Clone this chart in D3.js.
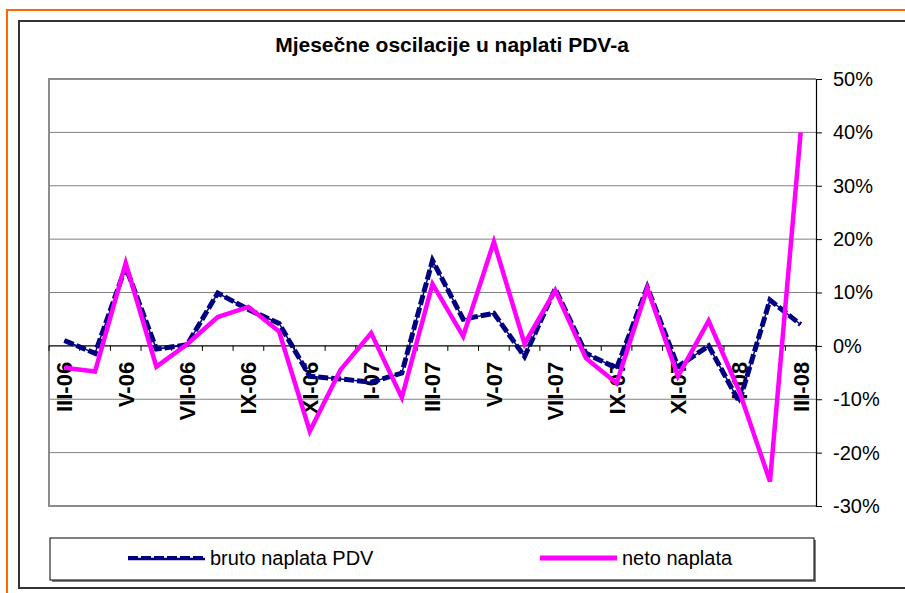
<!DOCTYPE html>
<html>
<head>
<meta charset="utf-8">
<script src="https://cdn.jsdelivr.net/npm/d3@7"></script>
<style>
  body { margin: 0; background: #fff; }
  text { font-family: "Liberation Sans", Arial, sans-serif; }
</style>
</head>
<body>
<div id="chart"></div>
<script>
var months = ["III-06","IV-06","V-06","VI-06","VII-06","VIII-06","IX-06","X-06","XI-06","XII-06",
              "I-07","II-07","III-07","IV-07","V-07","VI-07","VII-07","VIII-07","IX-07","X-07",
              "XI-07","XII-07","I-08","II-08","III-08"];
var tickLabels = ["III-06","V-06","VII-06","IX-06","XI-06","I-07","III-07","V-07","VII-07","IX-07","XI-07","I-08","III-08"];
var bruto = [1.0, -1.4, 14.8, -0.6, 0.2, 9.9, 6.8, 4.2, -5.7, -6.2, -6.8, -5.1, 16.0,
             5.0, 6.1, -2.0, 10.7, -1.4, -4.2, 11.0, -3.9, 0.0, -10.5, 8.6, 4.0];
var neto = [-4.1, -4.8, 15.5, -3.9, 0.3, 5.4, 7.3, 2.7, -16.0, -4.5, 2.4, -9.7, 11.6,
            1.8, 19.5, 0.4, 10.4, -2.3, -7.0, 10.8, -5.7, 4.7, -8.5, -25.4, 40.0];
var yTicks = [-30, -20, -10, 0, 10, 20, 30, 40, 50];

function init() {
  var w = 905, h = 593;
  var left = 49, right = 816, top = 79, bottom = 506;

  var svg = d3.select("#chart").append("svg")
      .attr("width", w)
      .attr("height", h);

  // outer frames
  svg.append("rect").attr("x", 7).attr("y", 10).attr("width", 920).attr("height", 600)
     .attr("fill", "none").attr("stroke", "#ff6600").attr("stroke-width", 2);
  svg.append("rect").attr("x", 19).attr("y", 21).attr("width", 900).attr("height", 567)
     .attr("fill", "#fff").attr("stroke", "#333").attr("stroke-width", 2);

  svg.append("text")
     .attr("x", 452).attr("y", 52)
     .attr("text-anchor", "middle")
     .attr("font-size", 21).attr("font-weight", "bold")
     .text("Mjesečne oscilacije u naplati PDV-a");

  var x = d3.scaleBand().domain(months).range([left, right]);
  var y = d3.scaleLinear().domain([-30, 50]).range([bottom, top]);
  var cx = function(m) { return x(m) + x.bandwidth() / 2; };

  // grid
  svg.selectAll("line.grid").data(yTicks.filter(function(d){ return d != 0; }))
     .enter().append("line")
     .attr("class", "grid")
     .attr("x1", left).attr("x2", right)
     .attr("y1", function(d){ return y(d); }).attr("y2", function(d){ return y(d); })
     .attr("stroke", "#808080").attr("stroke-width", 1);

  // plot border (top, left, bottom)
  svg.append("path")
     .attr("d", "M" + right + "," + y(50) + "H" + left + "V" + y(-30) + "H" + right)
     .attr("fill", "none").attr("stroke", "#8c8c8c").attr("stroke-width", 2);

  // right value axis
  var yAxis = d3.axisRight(y).tickValues(yTicks).tickSize(6).tickPadding(11)
      .tickFormat(function(d){ return d + "%"; });
  var ya = svg.append("g").attr("transform", "translate(" + right + ",0)").call(yAxis);
  ya.select(".domain").attr("stroke", "#000").attr("stroke-width", 1.2);
  ya.selectAll(".tick line").attr("stroke", "#000");
  ya.selectAll(".tick text").attr("font-size", 20).attr("fill", "#000")
    .attr("font-family", "Liberation Sans, Arial, sans-serif");

  // category axis at 0
  svg.append("line").attr("x1", left).attr("x2", right)
     .attr("y1", y(0)).attr("y2", y(0)).attr("stroke", "#000").attr("stroke-width", 1.2);
  var bounds = months.map(function(m){ return x(m); }).concat([right]);
  svg.selectAll("line.xtick").data(bounds).enter().append("line")
     .attr("class", "xtick")
     .attr("x1", function(d){ return d; }).attr("x2", function(d){ return d; })
     .attr("y1", y(0)).attr("y2", y(0) + 5)
     .attr("stroke", "#000");

  svg.selectAll("text.xlab").data(tickLabels).enter().append("text")
     .attr("class", "xlab")
     .attr("transform", function(d){ return "translate(" + cx(d) + "," + (y(0) + 16) + ") rotate(-90)"; })
     .attr("dy", "0.36em")
     .attr("text-anchor", "end")
     .attr("font-size", 22).attr("font-weight", "bold")
     .text(function(d){ return d; });

  // series
  var line = d3.line()
      .x(function(d, i){ return cx(months[i]); })
      .y(function(d){ return y(d); });

  svg.append("path").attr("d", line(bruto))
     .attr("fill", "none").attr("stroke", "#000080").attr("stroke-width", 5)
     .attr("stroke-dasharray", "10,3");
  svg.append("path").attr("d", line(bruto))
     .attr("fill", "none").attr("stroke", "#000080").attr("stroke-width", 1.5);

  svg.append("path").attr("d", line(neto))
     .attr("fill", "none").attr("stroke", "#ff00ff").attr("stroke-width", 4.5)
     .attr("stroke-linejoin", "miter");

  // legend
  svg.append("rect").attr("x", 52).attr("y", 540).attr("width", 764).attr("height", 42)
     .attr("fill", "#808080");
  svg.append("rect").attr("x", 50).attr("y", 538).attr("width", 764).attr("height", 42)
     .attr("fill", "#fff").attr("stroke", "#000").attr("stroke-width", 1);

  svg.append("line").attr("x1", 128).attr("x2", 205).attr("y1", 559).attr("y2", 559)
     .attr("stroke", "#000080").attr("stroke-width", 2.5);
  svg.append("line").attr("x1", 128).attr("x2", 205).attr("y1", 557).attr("y2", 557)
     .attr("stroke", "#000080").attr("stroke-width", 2).attr("stroke-dasharray", "10,3");
  svg.append("text").attr("x", 210).attr("y", 565).attr("font-size", 20).text("bruto naplata PDV");

  svg.append("line").attr("x1", 540).attr("x2", 617).attr("y1", 558).attr("y2", 558)
     .attr("stroke", "#ff00ff").attr("stroke-width", 5);
  svg.append("text").attr("x", 622).attr("y", 565).attr("font-size", 20).text("neto naplata");
}

window.onload = init;
</script>
</body>
</html>
